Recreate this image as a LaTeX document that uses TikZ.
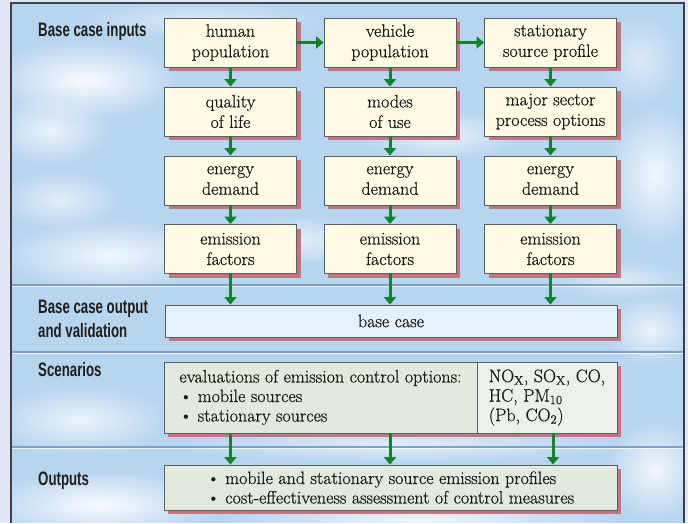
\documentclass[tikz,border=0pt]{standalone}
\usepackage{fontspec}
\usetikzlibrary{arrows.meta,fadings}
\newfontfamily\labelfont[FakeStretch=0.68]{Liberation Sans}
\newfontfamily\boxfont[UprightFeatures={FakeBold=0.6}]{Latin Modern Roman}
\definecolor{sky}{RGB}{184,213,240}
\definecolor{strip}{RGB}{224,232,245}
\definecolor{framec}{RGB}{60,65,75}
\definecolor{cream}{RGB}{255,251,228}
\definecolor{shadowc}{RGB}{192,118,130}
\definecolor{boxline}{RGB}{90,95,95}
\definecolor{basefill}{RGB}{228,240,250}
\definecolor{scenfill}{RGB}{226,234,224}
\definecolor{scenfilltwo}{RGB}{234,241,234}
\definecolor{arrowgreen}{RGB}{22,128,46}
\definecolor{sepdark}{RGB}{128,158,198}
\definecolor{textc}{RGB}{25,25,25}
\tikzfading[name=cloudfade, inner color=transparent!0, outer color=transparent!100]
\tikzset{
  shadowed/.style={preaction={fill=shadowc, transform canvas={xshift=4pt,yshift=-4pt}}},
  inbox/.style={draw=boxline, line width=0.9pt, fill=cream, shadowed, align=center,
    inner sep=0pt, minimum width=132pt, minimum height=49pt, text=textc,
    font=\boxfont\fontsize{18}{20.5}\selectfont},
  widebox/.style={draw=boxline, line width=0.9pt, inner sep=0pt, text=textc,
    font=\boxfont\fontsize{18}{19.5}\selectfont},
  lab/.style={anchor=base west, inner sep=0pt, text=black!88,
    font=\labelfont\bfseries\fontsize{19.5}{20}\selectfont},
  garrow/.style={draw=arrowgreen, line width=3pt, -{Triangle[length=7.5pt,width=12pt]}},
  cloud/.style={fill=white, path fading=cloudfade}
}
\begin{document}
\begin{tikzpicture}[x=1pt,y=-1pt]
\useasboundingbox (0,0) rectangle (688,523);
\fill[strip] (0,0) rectangle (688,523);
\fill[sky] (11,3) rectangle (684,523);
\begin{scope}
\clip (11,3) rectangle (684,523);
\fill[cloud, fill opacity=0.9] (85,80) ellipse [x radius=95, y radius=40];
\fill[cloud, fill opacity=0.7] (50,130) ellipse [x radius=60, y radius=35];
\fill[cloud, fill opacity=0.8] (110,255) ellipse [x radius=110, y radius=35];
\fill[cloud, fill opacity=0.6] (60,200) ellipse [x radius=60, y radius=30];
\fill[cloud, fill opacity=0.7] (80,420) ellipse [x radius=90, y radius=35];
\fill[cloud, fill opacity=0.9] (100,505) ellipse [x radius=120, y radius=35];
\fill[cloud, fill opacity=0.8] (655,175) ellipse [x radius=50, y radius=70];
\fill[cloud, fill opacity=0.8] (655,470) ellipse [x radius=50, y radius=50];
\fill[cloud, fill opacity=0.7] (440,135) ellipse [x radius=80, y radius=25];
\fill[cloud, fill opacity=0.7] (650,330) ellipse [x radius=45, y radius=35];
\fill[cloud, fill opacity=0.5] (640,60) ellipse [x radius=40, y radius=45];
\fill[cloud, fill opacity=0.6] (300,240) ellipse [x radius=80, y radius=25];
\fill[cloud, fill opacity=0.8] (420,520) ellipse [x radius=200, y radius=22];
\fill[cloud, fill opacity=0.6] (400,445) ellipse [x radius=220, y radius=18];
\fill[cloud, fill opacity=0.5] (620,280) ellipse [x radius=70, y radius=20];
\fill[cloud, fill opacity=0.5] (200,20) ellipse [x radius=120, y radius=18];
\end{scope}
\draw[framec, line width=1.6pt] (11,523) -- (11,3) -- (684,3) -- (684,523);
% separators
\foreach \yy in {285,352,447}{
  \draw[sepdark, line width=1.3pt] (11.8,\yy) -- (683.2,\yy);
  \draw[white, line width=1pt, opacity=0.8] (11.8,\yy+1.8) -- (683.2,\yy+1.8);
}
% labels
\node[lab] (l1) at (38,36) {Base case inputs};
\node[lab] (l2a) at (38,313) {Base case output};
\node[lab] (l2b) at (38,337) {and validation};
\node[lab] (l3) at (38,376) {Scenarios};
\node[lab] (l4) at (38,485) {Outputs};
% column boxes
\node[inbox] (c1r1) at (230.5,42.5) {human\\population};
\node[inbox] (c2r1) at (390,42.5) {vehicle\\population};
\node[inbox] (c3r1) at (550.5,42.5) {stationary\\source profile};
\node[inbox] (c1r2) at (230.5,111.5) {quality\\of life};
\node[inbox] (c2r2) at (390,111.5) {modes\\of use};
\node[inbox] (c3r2) at (550.5,111.5) {major sector\\process options};
\node[inbox] (c1r3) at (230.5,180.5) {energy\\demand};
\node[inbox] (c2r3) at (390,180.5) {energy\\demand};
\node[inbox] (c3r3) at (550.5,180.5) {energy\\demand};
\node[inbox] (c1r4) at (230.5,249) {emission\\factors};
\node[inbox] (c2r4) at (390,249) {emission\\factors};
\node[inbox] (c3r4) at (550.5,249) {emission\\factors};
% base case
\node[widebox, fill=basefill, shadowed, minimum width=452pt, minimum height=32pt] (base) at (391,321) {base case};
% scenarios
\fill[shadowc] (168,366) rectangle (621,437);
\node[widebox, fill=scenfill, minimum width=313pt, minimum height=71pt, align=left] (scenL) at (320.5,397.5)
  {evaluations of emission control options:\\\textbullet\ mobile sources\\\textbullet\ stationary sources};
\node[widebox, fill=scenfilltwo, minimum width=140pt, minimum height=71pt, align=left] (scenR) at (547,397.5)
  {NO\textsubscript{X}, SO\textsubscript{X}, CO,\\HC, PM\textsubscript{10}\\(Pb, CO\textsubscript{2})};
% outputs
\node[widebox, fill=scenfill, shadowed, minimum width=453pt, minimum height=45pt, align=left] (out) at (390.5,487.5)
  {\textbullet\ mobile and stationary source emission profiles\\\textbullet\ cost-effectiveness assessment of control measures};
% arrows
\draw[garrow] (c1r1.east) -- (c2r1.west);
\draw[garrow] (c2r1.east) -- (c3r1.west);
\foreach \c in {c1,c2,c3}{
  \draw[garrow] (\c r1.south) -- (\c r2.north);
  \draw[garrow] (\c r2.south) -- (\c r3.north);
  \draw[garrow] (\c r3.south) -- (\c r4.north);
  \draw[garrow] (\c r4.south) -- (\c r4.south |- base.north);
}
\draw[garrow] (c1r4.south |- scenL.south) -- (c1r4.south |- out.north);
\draw[garrow] (c2r4.south |- scenL.south) -- (c2r4.south |- out.north);
\draw[garrow] ([xshift=2.5pt]c3r4.south |- scenR.south) -- ([xshift=2.5pt]c3r4.south |- out.north);
\end{tikzpicture}
\end{document}
